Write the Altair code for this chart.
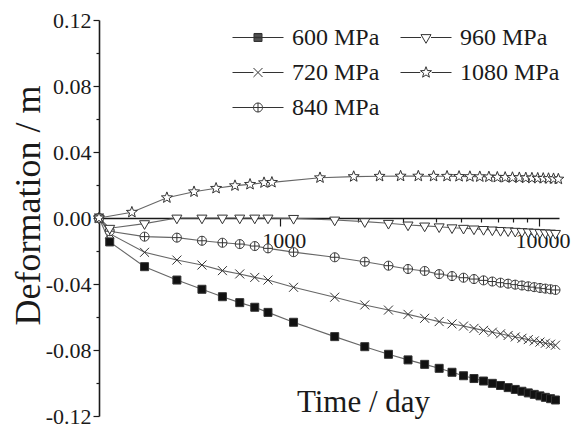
import math
import altair as alt
import pandas as pd

# ---- data -----------------------------------------------------------------
series_names = ["600 MPa", "720 MPa", "840 MPa", "960 MPa", "1080 MPa"]

time_main = [200, 220, 300, 400, 500, 600, 700, 800, 900, 1130, 1630, 2130,
             2630, 3130, 3630, 4130, 4630, 5130, 5630, 6130, 6630, 7130, 7630,
             8130, 8630, 9130, 9630, 10130, 10630, 11130, 11630]
time_1080 = [200, 268, 366, 466, 567, 671, 767, 869, 932, 1430, 1930, 2430,
             2930, 3430, 3930, 4430, 4930, 5430, 5930, 6430, 6930, 7430, 7930,
             8430, 8930, 9430, 9930, 10430, 10930, 11430, 11930]

def_600 = [0, -0.0145, -0.0295, -0.0376, -0.0432, -0.0477, -0.0513, -0.0541,
           -0.0572, -0.0632, -0.0719, -0.0780, -0.0826, -0.0860, -0.0887,
           -0.0911, -0.0935, -0.0956, -0.0973, -0.0988, -0.1002, -0.1015,
           -0.1028, -0.1039, -0.1050, -0.1060, -0.1069, -0.1078, -0.1087,
           -0.1095, -0.1103]
def_720 = [0, -0.0095, -0.0208, -0.0255, -0.0285, -0.0319, -0.0339, -0.0360,
           -0.0376, -0.0420, -0.0480, -0.0527, -0.0558, -0.0584, -0.0608,
           -0.0628, -0.0642, -0.0655, -0.0669, -0.0681, -0.0692, -0.0702,
           -0.0712, -0.0721, -0.0729, -0.0737, -0.0745, -0.0752, -0.0759,
           -0.0765, -0.0771]
def_840 = [0, -0.0080, -0.0113, -0.0119, -0.0138, -0.0150, -0.0158, -0.0170,
           -0.0184, -0.0207, -0.0238, -0.0265, -0.0289, -0.0309, -0.0321,
           -0.0340, -0.0352, -0.0362, -0.0370, -0.0378, -0.0385, -0.0392,
           -0.0398, -0.0404, -0.0409, -0.0414, -0.0419, -0.0424, -0.0428,
           -0.0432, -0.0436]
def_960 = [0, -0.0062, -0.0034, 0.0, 0.0, 0.0, 0.0, 0.0, 0.0, -0.0002,
           -0.0012, -0.0022, -0.0032, -0.0042, -0.0048, -0.0053, -0.0059,
           -0.0062, -0.0066, -0.0069, -0.0072, -0.0075, -0.0077, -0.0080,
           -0.0082, -0.0084, -0.0086, -0.0088, -0.0090, -0.0091, -0.0093]
def_1080 = [0, 0.0035, 0.0123, 0.0159, 0.0180, 0.0196, 0.0204, 0.0214, 0.0216,
            0.0244, 0.0251, 0.0253, 0.0254, 0.0254, 0.0253, 0.0253, 0.0252,
            0.0251, 0.0250, 0.0249, 0.0247, 0.0246, 0.0245, 0.0244, 0.0243,
            0.0242, 0.0241, 0.0240, 0.0239, 0.0238, 0.0236]

x_ticks = [1000, 2000, 3000, 4000, 5000, 6000, 7000, 8000, 9000, 10000]
y_ticks = [-0.12, -0.10, -0.08, -0.06, -0.04, -0.02, 0.0,
           0.02, 0.04, 0.06, 0.08, 0.10, 0.12]

rows = []
for name, times, vals in [
    ("600 MPa", time_main, def_600),
    ("720 MPa", time_main, def_720),
    ("840 MPa", time_main, def_840),
    ("960 MPa", time_main, def_960),
    ("1080 MPa", time_1080, def_1080),
]:
    for t, v in zip(times, vals):
        rows.append({"series": name, "time": t, "deformation": v})
df = pd.DataFrame(rows)

# ---- marker geometry (custom SVG symbol paths) ---------------------------
def f(v):
    return f"{v:.4f}".rstrip("0").rstrip(".") if abs(v) > 1e-9 else "0"

def square(h):
    return f"M{f(-h)},{f(-h)}L{f(h)},{f(-h)}L{f(h)},{f(h)}L{f(-h)},{f(h)}Z"

def solid_square(h, step):
    # outline plus dense hatching, so a stroke-only symbol reads as solid
    p = square(h)
    y = -h
    while y <= h + 1e-9:
        p += f"M{f(-h)},{f(y)}L{f(h)},{f(y)}"
        y += step
    return p

def xmark(h):
    return f"M{f(-h)},{f(-h)}L{f(h)},{f(h)}M{f(-h)},{f(h)}L{f(h)},{f(-h)}"

def circle_plus(r):
    pts = []
    for k in range(24):
        a = 2 * math.pi * k / 24
        pts.append(f"{f(r * math.cos(a))},{f(r * math.sin(a))}")
    ring = "M" + "L".join(pts) + "Z"
    return ring + f"M{f(-r)},0L{f(r)},0M0,{f(-r)}L0,{f(r)}"

def tri_down(h):
    a = h * 0.577
    b = h * 1.155
    return f"M{f(-h)},{f(-a)}L{f(h)},{f(-a)}L0,{f(b)}Z"

def star(r):
    pts = []
    for k in range(10):
        rad = r if k % 2 == 0 else r * 0.42
        a = math.radians(-90 + 36 * k)
        pts.append(f"{f(rad * math.cos(a))},{f(rad * math.sin(a))}")
    return "M" + "L".join(pts) + "Z"

# half-sizes of the markers in pixels
half_px = {"600 MPa": 4.0, "720 MPa": 4.5, "840 MPa": 4.5,
           "960 MPa": 5.0, "1080 MPa": 5.8}
makers = {"600 MPa": square, "720 MPa": xmark, "840 MPa": circle_plus,
          "960 MPa": tri_down, "1080 MPa": star}
fills = {"600 MPa": "#111111", "720 MPa": "white", "840 MPa": "white",
         "960 MPa": "white", "1080 MPa": "white"}

POINT_SIZE = 100          # 1 path unit = sqrt(size)/2 = 5 px
LEGEND_SIZE = 51 * 51     # legend symbol spans 51 px
pu = math.sqrt(POINT_SIZE) / 2
lu = math.sqrt(LEGEND_SIZE) / 2

point_paths = [makers[s](half_px[s] / pu) for s in series_names]

legend_paths = []
for s in series_names:
    g = half_px[s] / lu
    seg = f"M-1,0L{f(-g)},0M{f(g)},0L1,0"
    if s == "600 MPa":
        legend_paths.append(seg + solid_square(g, 0.8 / lu))
    else:
        legend_paths.append(seg + makers[s](g))

SERIF = "Liberation Serif"
INK = "#1a1a1a"

x_enc = alt.X(
    "time:Q",
    scale=alt.Scale(type="log", domain=[200, 12000], nice=False),
    axis=alt.Axis(
        values=x_ticks,
        labelExpr="datum.value == 1000 || datum.value == 10000 ? format(datum.value, 'd') : ''",
        tickSize={"condition": {"test": "datum.value == 1000 || datum.value == 10000", "value": 8}, "value": 4},
        offset=-198,
        grid=False,
        domainColor=INK, domainWidth=1.6,
        tickColor=INK, tickWidth=1.2,
        labelFont=SERIF, labelFontSize=22, labelColor=INK,
        labelPadding=4, labelOffset=4,
        labelFlush=False, labelOverlap=False,
        title="Time / day",
        titleFont=SERIF, titleFontSize=31, titleFontWeight="normal",
        titleColor=INK, titleX=264, titleY=193,
        titleAlign="center", titleBaseline="alphabetic",
    ),
)
y_enc = alt.Y(
    "deformation:Q",
    scale=alt.Scale(domain=[-0.12, 0.12], nice=False, zero=False),
    axis=alt.Axis(
        values=y_ticks,
        labelExpr="abs(round(datum.value * 100)) % 4 == 0 ? (datum.value < -0.000001 ? '-' : '') + format(abs(datum.value), '.2f') : ''",
        tickSize={"condition": {"test": "abs(round(datum.value * 100)) % 4 == 0", "value": 6}, "value": 3},
        grid=False,
        domainColor=INK, domainWidth=1.6,
        tickColor=INK, tickWidth=1.2,
        labelFont=SERIF, labelFontSize=22, labelColor=INK,
        labelPadding=2, labelFlush=False, labelOverlap=False,
        title="Deformation / m",
        titleFont=SERIF, titleFontSize=36, titleFontWeight="normal",
        titleColor=INK, titleX=-71, titleY=185,
        titleAlign="center", titleBaseline="middle",
    ),
)

base = alt.Chart(df)

lines = base.mark_line(color="#666666", strokeWidth=1.1).encode(
    x=x_enc, y=y_enc, detail="series:N", order="time:Q"
)

points = base.mark_point(size=POINT_SIZE, stroke="#333333", strokeWidth=1,
                         opacity=1).encode(
    x=x_enc,
    y=y_enc,
    shape=alt.Shape("series:N",
                    scale=alt.Scale(domain=series_names, range=point_paths),
                    legend=None),
    fill=alt.Fill("series:N",
                  scale=alt.Scale(domain=series_names,
                                  range=[fills[s] for s in series_names]),
                  legend=None),
)

# legend entries: line segment with the series marker, two columns
legend_layer = base.transform_filter("false").mark_point(
    size=LEGEND_SIZE, stroke="#333333", strokeWidth=1, opacity=1, filled=False
).encode(
    x=x_enc,
    y=y_enc,
    shape=alt.Shape(
        "series:N",
        scale=alt.Scale(domain=series_names, range=legend_paths),
        legend=alt.Legend(
            orient="none", legendX=133, legendY=0,
            columns=2, columnPadding=20, rowPadding=0,
            clipHeight=35, symbolSize=LEGEND_SIZE,
            symbolStrokeWidth=1, symbolStrokeColor="#333333",
            symbolFillColor="transparent", symbolOpacity=1,
            labelFont=SERIF, labelFontSize=24, labelColor=INK,
            labelOffset=8, labelLimit=300, padding=0, title=None,
        ),
    ),
)

chart = (
    alt.layer(lines, points, legend_layer)
    .resolve_scale(shape="independent", fill="independent")
    .properties(
        width=460, height=396,
        padding={"left": 99, "top": 20, "right": 26, "bottom": 10},
        autosize=alt.AutoSizeParams(type="none"),
        background="white",
    )
    .configure(font=SERIF)
    .configure_view(stroke=None)
)

chart.save("out.html", embed_options={"renderer": "svg", "actions": False})
